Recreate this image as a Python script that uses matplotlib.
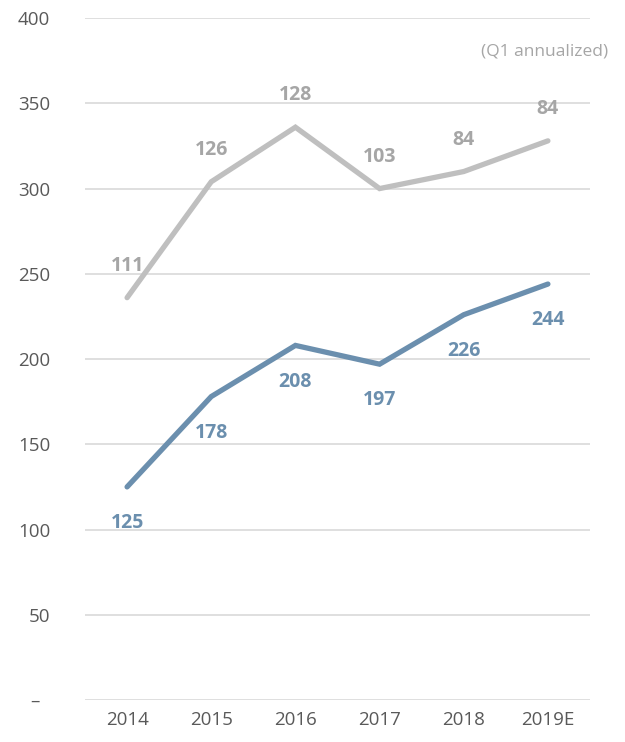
import numpy as np
import matplotlib.pyplot as plt

years = ["2014", "2015", "2016", "2017", "2018", "2019E"]
base_vals = [125, 178, 208, 197, 226, 244]
extra_vals = [111, 126, 128, 103, 84, 84]
y_ticks = [0, 50, 100, 150, 200, 250, 300, 350, 400]
y_tick_labels = ["–  ", "50", "100", "150", "200", "250", "300", "350", "400"]

plt.rcParams['font.family'] = ['Open Sans', 'DejaVu Sans']

blue = "#6B8FAE"
grey = "#BFBFBF"
grey_txt = "#A6A6A6"

x = np.arange(len(years))
total_vals = np.array(base_vals) + np.array(extra_vals)

fig = plt.figure(figsize=(6.25, 7.42), dpi=100)
ax = fig.add_axes([0.136, 0.0566, 0.808, 0.919])

ax.plot(x, total_vals, color=grey, lw=3.8, solid_capstyle='round', solid_joinstyle='miter', zorder=3)
ax.plot(x, base_vals, color=blue, lw=3.8, solid_capstyle='round', solid_joinstyle='miter', zorder=3)

for xi, t, e in zip(x, total_vals, extra_vals):
    ax.annotate(str(e), (xi, t), xytext=(0, 23), textcoords='offset points',
                ha='center', va='center', fontsize=14, fontweight='bold', color=grey_txt)
for xi, b in zip(x, base_vals):
    ax.annotate(str(b), (xi, b), xytext=(0, -26), textcoords='offset points',
                ha='center', va='center', fontsize=14, fontweight='bold', color=blue)

ax.set_xlim(-0.5, len(years) - 0.5)
ax.set_ylim(0, 400)
ax.set_xticks(x)
ax.set_xticklabels(years)
ax.set_yticks(y_ticks)
ax.set_yticklabels(y_tick_labels)
ax.tick_params(axis='both', length=0, labelsize=13.5, labelcolor="#595959")
ax.tick_params(axis='y', pad=25)
ax.tick_params(axis='x', pad=8)
ax.grid(axis='y', color="#D9D9D9", lw=1.2)
ax.set_axisbelow(True)
for s in ax.spines.values():
    s.set_visible(False)

fig.text(0.973, 0.93, "(Q1 annualized)", ha='right', va='center', fontsize=12.5, color=grey_txt)

fig.savefig("out.png", dpi=100)
